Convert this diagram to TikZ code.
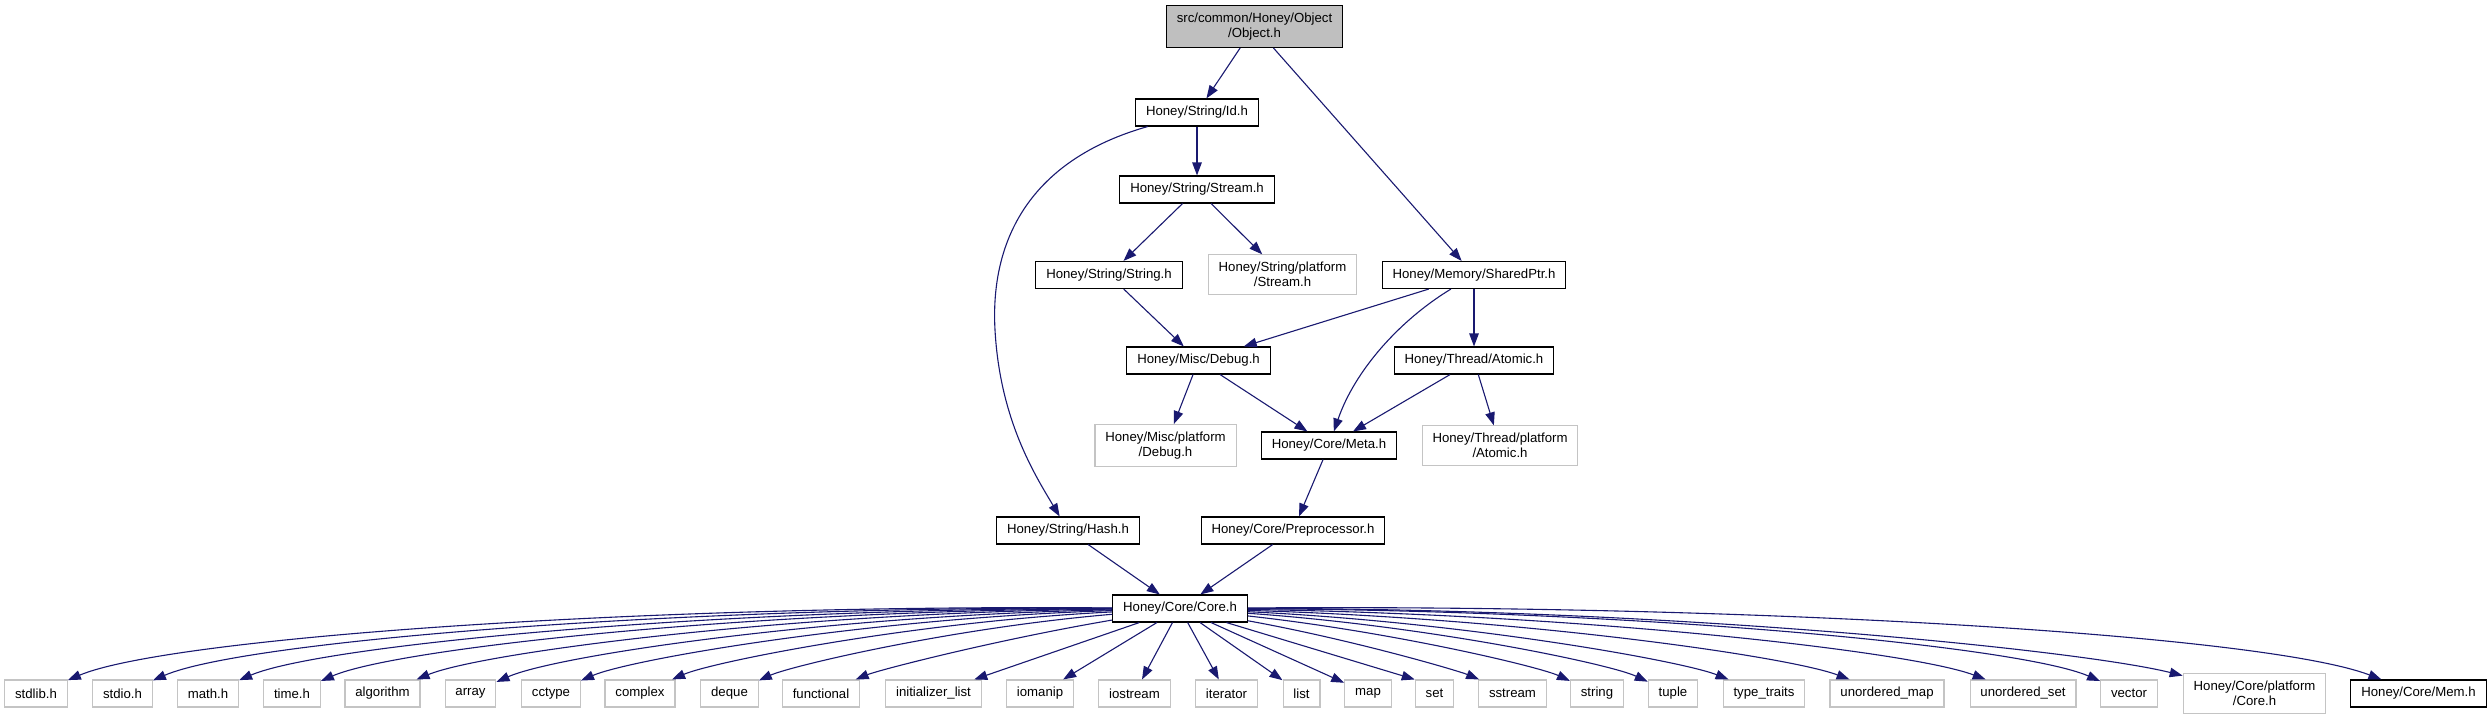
\documentclass[tikz,border=0pt]{standalone}
\usepackage{fontspec}
\setmainfont{Liberation Sans}
\usetikzlibrary{arrows.meta}
\definecolor{edgeblue}{RGB}{25,25,112}
\definecolor{rootgray}{RGB}{191,191,191}
\definecolor{sysgray}{RGB}{196,196,196}

\begin{document}
\begin{tikzpicture}[x=1pt, y=-1pt,
    hdr/.style={draw=black, line width=1.1pt, fill=white,
        font=\fontsize{13.2}{15.5}\selectfont, align=center,
        inner xsep=10.4pt, inner ysep=7pt, minimum height=27pt},
    sys/.style={hdr, draw=sysgray},
    rootfile/.style={hdr, fill=rootgray},
    dep/.style={draw=edgeblue, line width=1.1pt, -{Triangle[length=13pt, width=9.5pt]}}]
    \useasboundingbox (0,0) rectangle (2492,723);

    % Honey headers
    \node[rootfile] (obj) at (1254.5,26.5) {src/common/Honey/Object\\/Object.h};
    \node[hdr] (idh) at (1197,112.5) {Honey/String/Id.h};
    \node[hdr] (streamh) at (1197,189.5) {Honey/String/Stream.h};
    \node[hdr] (stringh) at (1109,275) {Honey/String/String.h};
    \node[sys] (pstream) at (1282.5,274.5) {Honey/String/platform\\/Stream.h};
    \node[hdr] (sharedptr) at (1474,275) {Honey/Memory/SharedPtr.h};
    \node[hdr] (debugh) at (1198.5,360.5) {Honey/Misc/Debug.h};
    \node[hdr] (atomich) at (1474,360.5) {Honey/Thread/Atomic.h};
    \node[sys] (pdebug) at (1165.5,445.5) {Honey/Misc/platform\\/Debug.h};
    \node[hdr] (metah) at (1329,445.5) {Honey/Core/Meta.h};
    \node[sys] (patomic) at (1500,445.5) {Honey/Thread/platform\\/Atomic.h};
    \node[hdr] (hashh) at (1068,530.5) {Honey/String/Hash.h};
    \node[hdr] (prep) at (1293,530.5) {Honey/Core/Preprocessor.h};
    \node[hdr] (coreh) at (1180,608.5) {Honey/Core/Core.h};

    % System headers
    \node[sys] (stdlib) at (36,693.5) {stdlib.h};
    \node[sys] (stdio) at (122.5,693.5) {stdio.h};
    \node[sys] (mathh) at (208,693.5) {math.h};
    \node[sys] (timeh) at (292,693.5) {time.h};
    \node[sys] (algorithm) at (382.5,693.5) {algorithm};
    \node[sys] (array) at (470.5,693.5) {array};
    \node[sys] (cctype) at (551,693.5) {cctype};
    \node[sys] (complex) at (640,693.5) {complex};
    \node[sys] (deque) at (729.5,693.5) {deque};
    \node[sys] (functional) at (821,693.5) {functional};
    \node[sys] (initlist) at (933.5,693.5) {initializer\_list};
    \node[sys] (iomanip) at (1040,693.5) {iomanip};
    \node[sys] (iostream) at (1134.5,693.5) {iostream};
    \node[sys] (iterator) at (1226.5,693.5) {iterator};
    \node[sys] (list) at (1301.5,693.5) {list};
    \node[sys] (map) at (1368,693.5) {map};
    \node[sys] (set) at (1434.5,693.5) {set};
    \node[sys] (sstream) at (1512.5,693.5) {sstream};
    \node[sys] (string) at (1597,693.5) {string};
    \node[sys] (tuple) at (1673,693.5) {tuple};
    \node[sys] (typetraits) at (1764,693.5) {type\_traits};
    \node[sys] (umap) at (1887,693.5) {unordered\_map};
    \node[sys] (uset) at (2023,693.5) {unordered\_set};
    \node[sys] (vector) at (2129,693.5) {vector};
    \node[sys] (pcore) at (2254.5,693.5) {Honey/Core/platform\\/Core.h};
    \node[hdr] (memh) at (2418.5,693.5) {Honey/Core/Mem.h};

    % Upper includes
    \draw[dep] (obj) -- (idh);
    \draw[dep] (obj) -- (sharedptr);
    \draw[dep] (idh) -- (streamh);
    \draw[dep] (idh) .. controls (1030,160) and (990,240) .. (995,330)
        .. controls (1000,420) and (1035,475) .. (hashh);
    \draw[dep] (streamh) -- (stringh);
    \draw[dep] (streamh) -- (pstream);
    \draw[dep] (stringh) -- (debugh);
    \draw[dep] (sharedptr) -- (debugh);
    \draw[dep] (sharedptr) .. controls (1400,320) and (1355,370) .. (metah);
    \draw[dep] (sharedptr) -- (atomich);
    \draw[dep] (debugh) -- (pdebug);
    \draw[dep] (debugh) -- (metah);
    \draw[dep] (atomich) -- (metah);
    \draw[dep] (atomich) -- (patomic);
    \draw[dep] (metah) -- (prep);
    \draw[dep] (hashh) -- (coreh);
    \draw[dep] (prep) -- (coreh);

    % Core.h fan-out
    \draw[dep] (coreh) .. controls (640,604) and (168,638) .. (stdlib);
    \draw[dep] (coreh) .. controls (678,606) and (244,641) .. (stdio);
    \draw[dep] (coreh) .. controls (716,608) and (321,645) .. (mathh);
    \draw[dep] (coreh) .. controls (754,610) and (397,648) .. (timeh);
    \draw[dep] (coreh) .. controls (797,612) and (483,652) .. (algorithm);
    \draw[dep] (coreh) .. controls (834,615) and (557,655) .. (array);
    \draw[dep] (coreh) .. controls (871,618) and (631,659) .. (cctype);
    \draw[dep] (coreh) .. controls (912,622) and (712,662) .. (complex);
    \draw[dep] (coreh) .. controls (951,628) and (791,666) .. (deque);
    \draw[dep] (coreh) .. controls (995,640) and (879,670) .. (functional);
    \draw[dep] (coreh) -- (initlist);
    \draw[dep] (coreh) -- (iomanip);
    \draw[dep] (coreh) -- (iostream);
    \draw[dep] (coreh) -- (iterator);
    \draw[dep] (coreh) -- (list);
    \draw[dep] (coreh) -- (map);
    \draw[dep] (coreh) -- (set.north west);
    \draw[dep] (coreh) .. controls (1354,640) and (1459,671) .. (sstream);
    \draw[dep] (coreh) .. controls (1394,632) and (1540,667) .. (string);
    \draw[dep] (coreh) .. controls (1429,626) and (1610,664) .. (tuple);
    \draw[dep] (coreh) .. controls (1465,622) and (1682,661) .. (typetraits);
    \draw[dep] (coreh) .. controls (1518,618) and (1787,656) .. (umap);
    \draw[dep] (coreh) .. controls (1579,614) and (1910,651) .. (uset);
    \draw[dep] (coreh) .. controls (1634,610) and (2019,646) .. (vector);
    \draw[dep] (coreh) .. controls (1667,608) and (2080,650) .. (pcore);
    \draw[dep] (coreh) .. controls (1756,604) and (2264,635) .. (memh);
\end{tikzpicture}
\end{document}
